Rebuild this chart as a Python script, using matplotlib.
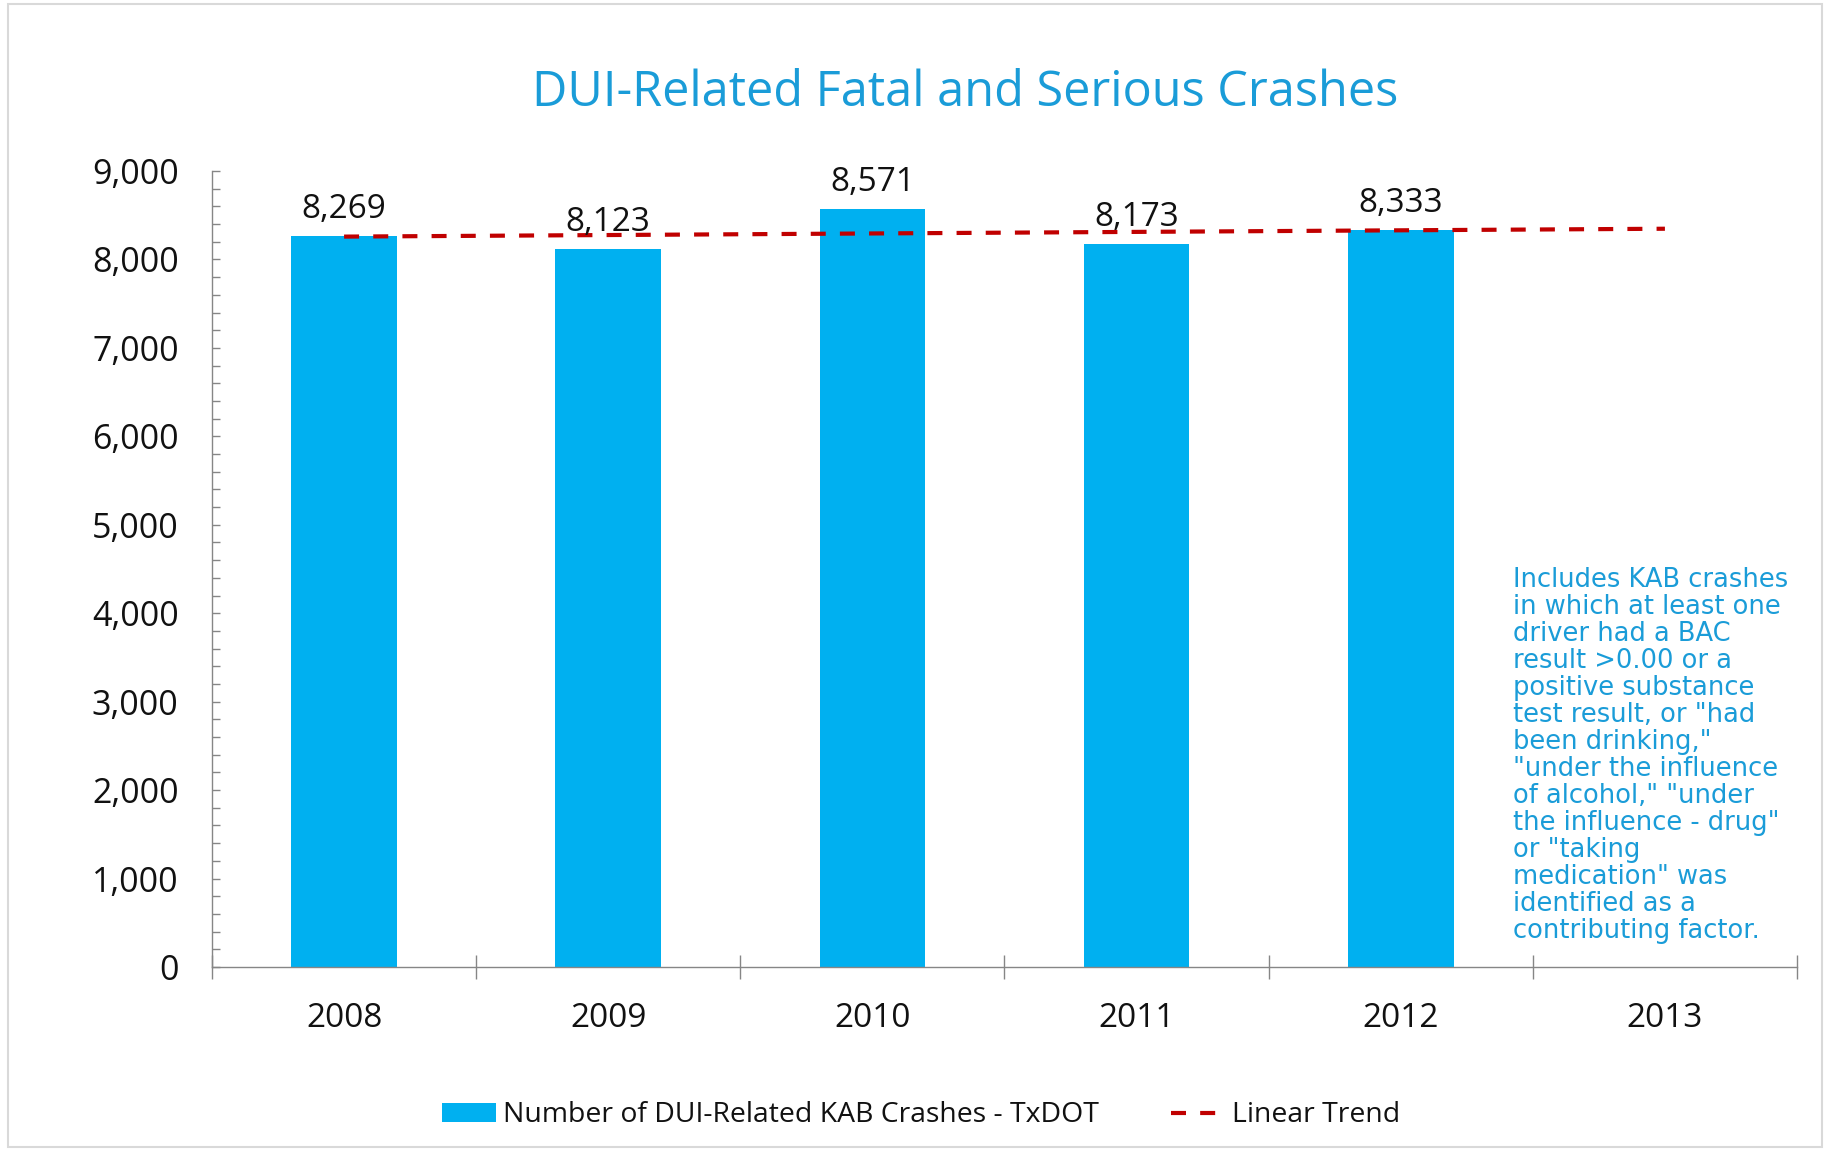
import matplotlib
matplotlib.use("Agg")
import matplotlib.pyplot as plt
import numpy as np
from matplotlib.ticker import MultipleLocator, FuncFormatter
from matplotlib.patches import Rectangle, Patch
from matplotlib.lines import Line2D

# ---------------- data ----------------
years = ["2008", "2009", "2010", "2011", "2012", "2013"]
crashes = [8269, 8123, 8571, 8173, 8333]
y_ticks = [0, 1000, 2000, 3000, 4000, 5000, 6000, 7000, 8000, 9000]
title = "DUI-Related Fatal and Serious Crashes"
series_label = "Number of DUI-Related KAB Crashes - TxDOT"
trend_label = "Linear Trend"
note = ("Includes KAB crashes\n"
        "in which at least one\n"
        "driver had a BAC\n"
        "result >0.00 or a\n"
        "positive substance\n"
        "test result, or \"had\n"
        "been drinking,\"\n"
        "\"under the influence\n"
        "of alcohol,\" \"under\n"
        "the influence - drug\"\n"
        "or \"taking\n"
        "medication\" was\n"
        "identified as a\n"
        "contributing factor.")

# ---------------- style ----------------
plt.rcParams["font.family"] = ["Open Sans", "DejaVu Sans"]
BAR = "#00B0F0"
TREND = "#C00000"
BLUE_TXT = "#1a9cd8"
AXIS = "#868686"
TXT = "#111111"

W, H, DPI = 1829, 1150, 100
fig = plt.figure(figsize=(W / DPI, H / DPI), dpi=DPI)
fig.patch.set_facecolor("white")

ax = fig.add_axes([212 / W, 1 - 967 / H, (1797 - 212) / W, (967 - 171) / H])

xb = np.arange(len(crashes))
ax.bar(xb, crashes, width=0.4, color=BAR, zorder=2)

# linear trend fitted on the data, extended to the last category
coef = np.polyfit(xb, crashes, 1)
xt = np.array([0, len(years) - 1])
ax.plot(xt, np.polyval(coef, xt), color=TREND, lw=3.0, dashes=(3.6, 3.4),
        dash_capstyle="butt", zorder=3)

for i, v in enumerate(crashes):
    ax.annotate(f"{v:,}", (i, v), xytext=(0, 13.0), textcoords="offset points",
                ha="center", va="baseline", fontsize=24, color=TXT)

ax.set_xlim(-0.5, len(years) - 0.5)
ax.set_ylim(0, 9000)

# category boundaries as major ticks, labels at centers
ax.set_xticks(np.arange(-0.5, len(years), 1.0))
ax.set_xticklabels([])
ax.set_xticks(np.arange(len(years)), minor=True)
ax.set_xticklabels(years, minor=True)
ax.tick_params(axis="x", which="major", direction="inout", length=17, width=1,
               color=AXIS, labelbottom=False)
ax.tick_params(axis="x", which="minor", length=0, pad=25, labelsize=24,
               labelcolor=TXT)

ax.set_yticks(y_ticks)
ax.yaxis.set_minor_locator(MultipleLocator(200))
ax.yaxis.set_major_formatter(FuncFormatter(lambda v, p: f"{int(v):,}"))
ax.tick_params(axis="y", which="both", direction="in", length=6, width=1,
               color=AXIS, pad=24, labelsize=24.5, labelcolor=TXT)

for s in ["top", "right"]:
    ax.spines[s].set_visible(False)
for s in ["left", "bottom"]:
    ax.spines[s].set_color(AXIS)
    ax.spines[s].set_linewidth(1)

# title
fig.text(965 / W, 1 - 106 / H, title, ha="center", va="baseline",
         fontsize=35, color=BLUE_TXT)

# side note
fig.text(1513 / W, 1 - 567 / H, note, ha="left", va="top", fontsize=18.5,
         family=["DejaVu Sans"], color=BLUE_TXT, linespacing=1.05)

# legend
handles = [Patch(facecolor=BAR, edgecolor="none"),
           Line2D([], [], color=TREND, lw=3.0, dashes=(3.6, 3.4))]
fig.legend(handles, [series_label, trend_label], loc="center",
           bbox_to_anchor=(921.5 / W, 1 - 1115.5 / H), ncol=2, frameon=False,
           fontsize=20.4, handlelength=1.9, handleheight=0.65,
           handletextpad=0.25, columnspacing=2.55, borderpad=0,
           labelcolor=TXT)

# chart frame
fig.patches.append(Rectangle((8 / W, 3 / H), (1822 - 8) / W, (1146 - 3) / H,
                             transform=fig.transFigure, fill=False,
                             edgecolor="#d9d9d9", lw=1.5))

fig.savefig("out.png", dpi=DPI)
